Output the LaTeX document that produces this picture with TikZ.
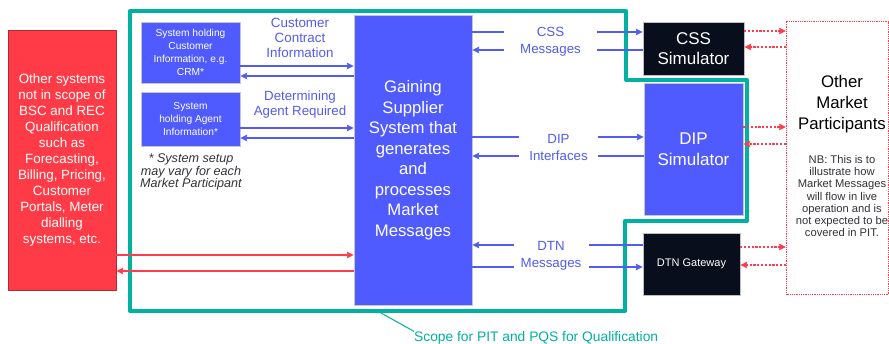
\documentclass[tikz,border=0pt]{standalone}
\usepackage{fontspec}
\setmainfont{Liberation Sans}
\usetikzlibrary{arrows.meta}
\definecolor{sysblue}{RGB}{79,91,255}
\definecolor{txtblue}{RGB}{82,92,240}
\definecolor{boxred}{RGB}{255,59,71}
\definecolor{arrred}{RGB}{255,60,78}
\definecolor{scopeteal}{RGB}{0,176,160}
\definecolor{simblack}{RGB}{8,14,28}
\definecolor{notegray}{RGB}{50,50,55}
\newcommand{\fsz}[2]{\fontsize{#1}{#2}\selectfont}
\begin{document}
\begin{tikzpicture}[x=1pt,y=-1pt,>={Stealth[length=7pt,width=6.5pt,inset=1pt]},line join=round]
  \tikzset{sysbox/.style={fill=sysblue,draw=gray!45,text=white,align=center,inner sep=0pt},
    simbox/.style={fill=simblack,draw=gray!50,text=white,align=center,inner sep=0pt},
    flow/.style={->,txtblue,line width=1.6pt},
    redflow/.style={->,arrred,line width=1.6pt},
    mpflow/.style={->,arrred,line width=2pt,dash pattern=on 2.2pt off 1.6pt},
    flowlbl/.style={fill=white,text=txtblue,align=center,inner sep=0pt,minimum height=36pt}}
  \useasboundingbox (0,0) rectangle (889,344);
  % scope of PIT / PQS
  \draw[scopeteal,line width=4pt] (130,11) -- (626,11) -- (626,80) -- (747,80) -- (747,221)
    -- (625,221) -- (625,311) -- (130,311) -- cycle;
  % boxes
  \node[fill=boxred,draw=boxred!70!black,text=white,align=center,inner sep=0pt,
    minimum width=108pt,minimum height=260pt,font=\fsz{13.4}{16}] (other) at (62,160)
    {Other systems\\not in scope of\\BSC and REC\\Qualification\\such as\\Forecasting,\\Billing, Pricing,\\Customer\\Portals, Meter\\dialling\\systems, etc.};
  \node[sysbox,minimum width=99pt,minimum height=61pt,font=\fsz{10.2}{12.8}] (crm) at (190.5,52.5)
    {System holding\\Customer\\Information, e.g.\\CRM*};
  \node[sysbox,minimum width=99pt,minimum height=54pt,font=\fsz{10.2}{12.6}] (agent) at (190.5,119)
    {System\\holding Agent\\Information*};
  \node[text=notegray,align=center,inner sep=0pt,font=\fsz{12.6}{12.6}\itshape] (setup) at (191,172)
    {* System setup\\may vary for each\\Market Participant};
  \node[sysbox,minimum width=118pt,minimum height=290pt,font=\fsz{16.7}{20.5}] (main) at (413,160)
    {Gaining\\Supplier\\System that\\generates\\and\\processes\\Market\\Messages};
  \node[simbox,minimum width=101pt,minimum height=53pt,font=\fsz{17}{20}] (css) at (693.5,48.5)
    {CSS\\Simulator};
  \node[sysbox,minimum width=99pt,minimum height=132pt,font=\fsz{17}{21}] (dip) at (693.5,149)
    {DIP\\Simulator};
  \node[simbox,minimum width=97pt,minimum height=62pt,font=\fsz{11}{13}] (dtn) at (691.5,264)
    {DTN Gateway};
  \node[draw=arrred,line width=1pt,dash pattern=on 1pt off 0.8pt,minimum width=102pt,
    minimum height=273pt,inner sep=0pt] (omp) at (837.5,158.5) {};
  \node[align=center,inner sep=0pt,font=\fsz{16.8}{21}] (omptitle) at (842,104)
    {Other\\Market\\Participants};
  \node[text=notegray,align=center,inner sep=0pt,font=\fsz{11.2}{12.3}] (ompnote) at (842,196)
    {NB: This is to\\illustrate how\\Market Messages\\will flow in live\\operation and is\\not expected to be\\covered in PIT.};
  % connectors
  \draw[flow] (crm.east |- 0,66) -- (main.west |- 0,66);
  \draw[flow] (main.west |- 0,76) -- (crm.east |- 0,76);
  \draw[flow] (agent.east |- 0,128) -- (main.west |- 0,128);
  \draw[flow] (main.west |- 0,138) -- (agent.east |- 0,138);
  \draw[redflow] (other.east |- 0,255) -- (main.west |- 0,255);
  \draw[redflow] (main.west |- 0,271) -- (other.east |- 0,271);
  \draw[flow] (main.east |- 0,32) -- (css.west |- 0,32);
  \draw[flow] (css.west |- 0,50) -- (main.east |- 0,50);
  \draw[flow] (main.east |- 0,137) -- (dip.west |- 0,137);
  \draw[flow] (dip.west |- 0,156) -- (main.east |- 0,156);
  \draw[flow] (dtn.west |- 0,245) -- (main.east |- 0,245);
  \draw[flow] (main.east |- 0,267) -- (dtn.west |- 0,267);
  \draw[mpflow] (css.east |- 0,31) -- (omp.west |- 0,31);
  \draw[mpflow] (omp.west |- 0,47) -- (css.east |- 0,47);
  \draw[mpflow] (dip.east |- 0,127) -- (omp.west |- 0,127);
  \draw[mpflow] (omp.west |- 0,144) -- (dip.east |- 0,144);
  \draw[mpflow] (dtn.east |- 0,247) -- (omp.west |- 0,247);
  \draw[mpflow] (omp.west |- 0,265) -- (dtn.east |- 0,265);
  % labels on connectors
  \node[text=txtblue,align=center,inner sep=0pt,font=\fsz{13.4}{15}] (ccinfo) at (300,38)
    {Customer\\Contract\\Information};
  \node[text=txtblue,align=center,inner sep=0pt,font=\fsz{13.3}{15}] (agreq) at (300,105)
    {Determining\\Agent Required};
  \node[flowlbl,minimum width=93pt,font=\fsz{13.3}{17}] (csslbl) at (550.5,42) {CSS\\Messages};
  \node[flowlbl,minimum width=79pt,font=\fsz{13.3}{17}] (diplbl) at (558.5,147) {DIP\\Interfaces};
  \node[flowlbl,minimum width=75pt,font=\fsz{13.3}{17}] (dtnlbl) at (551,256) {DTN\\Messages};
  % scope label
  \node[text=scopeteal,anchor=west,inner sep=0pt,font=\fsz{13.8}{16}] (scopelbl) at (414,338)
    {Scope for PIT and PQS for Qualification};
  \coordinate (scopept) at (381,313);
  \draw[scopeteal,line width=1pt] (scopept) -- (scopelbl.north west);
\end{tikzpicture}
\end{document}
